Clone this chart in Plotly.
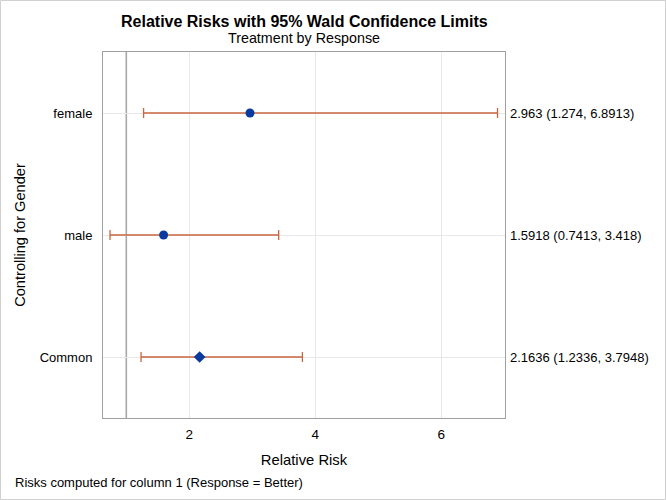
import plotly.graph_objects as go

strata = ["female", "male", "Common"]
estimates = [2.963, 1.5918, 2.1636]
lower = [1.274, 0.7413, 1.2336]
upper = [6.8913, 3.418, 3.7948]
labels = ["2.963 (1.274, 6.8913)", "1.5918 (0.7413, 3.418)", "2.1636 (1.2336, 3.7948)"]
symbols = ["circle", "circle", "diamond"]
ypos = [2, 1, 0]

FONT = "Liberation Sans, Arial, sans-serif"
W, H = 666, 500
L, R, T, B = 103, 161, 52, 82
pw, ph = W - L - R, H - T - B

fig = go.Figure()

fig.add_trace(go.Scatter(
    x=estimates, y=ypos, mode="markers",
    marker=dict(color="#0A3A9E", size=9, symbol=symbols, line=dict(width=0)),
    error_x=dict(type="data", symmetric=False,
                 array=[u - e for u, e in zip(upper, estimates)],
                 arrayminus=[e - l for e, l in zip(estimates, lower)],
                 color="#C9663F", thickness=1.3, width=5),
    showlegend=False, hoverinfo="skip",
))

# reference line at 1
fig.add_shape(type="line", xref="x", yref="paper", x0=1, x1=1, y0=0, y1=1,
              line=dict(color="#A8A8A8", width=1.6), layer="below")

for yv, txt in zip(ypos, labels):
    fig.add_annotation(x=1, xref="paper", y=yv, yref="y", text=txt, showarrow=False,
                       xanchor="left", xshift=3, font=dict(family=FONT, size=13, color="#000"))

# titles
fig.add_annotation(x=0.5, xref="paper", y=1, yref="paper", yshift=(T - 21),
                   text="<b>Relative Risks with 95% Wald Confidence Limits</b>",
                   showarrow=False, yanchor="middle",
                   font=dict(family=FONT, size=16, color="#000"))
fig.add_annotation(x=0.5, xref="paper", y=1, yref="paper", yshift=(T - 38),
                   text="Treatment by Response", showarrow=False, yanchor="middle",
                   font=dict(family=FONT, size=14.3, color="#000"))
# footnote
fig.add_annotation(x=-(L - 13) / pw, xref="paper", y=0, yref="paper", yshift=-(482 - (H - B)),
                   text="Risks computed for column 1 (Response = Better)", showarrow=False,
                   xanchor="left", yanchor="middle",
                   font=dict(family=FONT, size=13, color="#000"))

# outer border
fig.add_shape(type="rect", xref="paper", yref="paper",
              x0=-(L - 0.5) / pw, x1=(W - L - 0.5) / pw,
              y0=-(B - 0.5) / ph, y1=(H - B - 0.5) / ph,
              line=dict(color="#D0D0D0", width=1), fillcolor="rgba(0,0,0,0)", layer="below")

fig.update_layout(
    width=W, height=H,
    margin=dict(l=L, r=R, t=T, b=B),
    paper_bgcolor="white", plot_bgcolor="white",
    font=dict(family=FONT, size=13, color="#000"),
    xaxis=dict(range=[0.63, 7.01], tickvals=[2, 4, 6], showgrid=True, gridcolor="#E8E8E8",
               gridwidth=1, zeroline=False, showline=True, linecolor="#A0A0A0", linewidth=1,
               mirror=True, ticks="", ticklabelstandoff=4, tickfont=dict(family=FONT, size=13.5),
               title=dict(text="Relative Risk", font=dict(family=FONT, size=14.8), standoff=13)),
    yaxis=dict(range=[-0.5, 2.5], tickvals=ypos, ticktext=strata, showgrid=True,
               gridcolor="#E8E8E8", gridwidth=1, zeroline=False, showline=True,
               linecolor="#A0A0A0", linewidth=1, mirror=True, ticks="",
               ticklabelstandoff=7, tickfont=dict(family=FONT, size=13),
               title=dict(text="Controlling for Gender", font=dict(family=FONT, size=14.6), standoff=10)),
)

fig.write_html("out.html", config={"displayModeBar": False},
               post_script="document.body.style.margin='0';document.body.style.overflow='hidden';")
